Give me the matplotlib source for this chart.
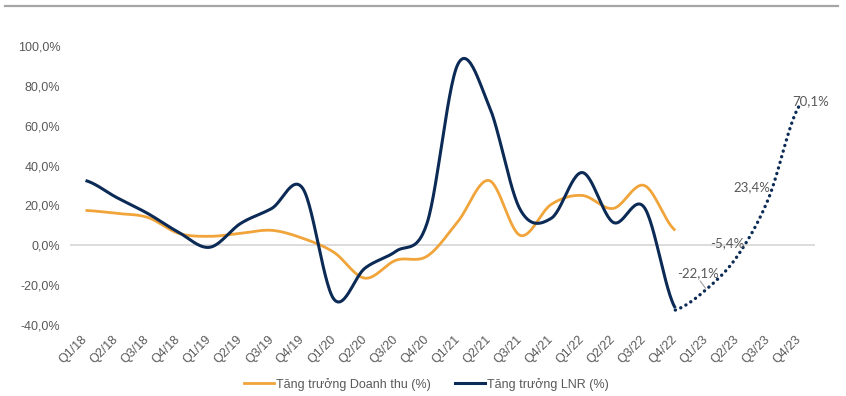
import numpy as np
import matplotlib
matplotlib.use("Agg")
import matplotlib.pyplot as plt
from matplotlib.lines import Line2D
from matplotlib.transforms import ScaledTranslation

quarters = ["Q1/18", "Q2/18", "Q3/18", "Q4/18", "Q1/19", "Q2/19", "Q3/19", "Q4/19",
            "Q1/20", "Q2/20", "Q3/20", "Q4/20", "Q1/21", "Q2/21", "Q3/21", "Q4/21",
            "Q1/22", "Q2/22", "Q3/22", "Q4/22", "Q1/23", "Q2/23", "Q3/23", "Q4/23"]

# actual values, Q1/18 .. Q4/22
rev_growth = [17.5, 16, 14, 6, 4.5, 6, 7.5, 3.5, -3.5, -16.5, -7.5, -5.5,
              12, 32.5, 5, 20.5, 25, 18.5, 30, 7.5]
lnr_growth = [32.5, 24, 16, 6.5, -1, 11, 18.5, 28.5, -27, -11.5, -3, 11,
              91, 70, 18, 13.5, 36.5, 11.5, 19, -31.5]
# forecast, Q4/22 .. Q4/23
lnr_forecast = [-32.5, -22.1, -5.4, 23.4, 70.1]
forecast_labels = ["", "-22,1%", "-5,4%", "23,4%", "70,1%"]

ORANGE = "#F0A43A"
NAVY = "#0B2A55"
GREY = "#595959"


def smooth(xs, ys, n=30):
    # catmull-rom style smoothing, similar to excel "smoothed line"
    xs = np.asarray(xs, float)
    ys = np.asarray(ys, float)
    px = np.concatenate([[2 * xs[0] - xs[1]], xs, [2 * xs[-1] - xs[-2]]])
    py = np.concatenate([[ys[0]], ys, [ys[-1]]])
    out_x, out_y = [], []
    t = np.linspace(0, 1, n)
    for i in range(1, len(px) - 2):
        p0, p1, p2, p3 = py[i - 1], py[i], py[i + 1], py[i + 2]
        m1 = (p2 - p0) / 2
        m2 = (p3 - p1) / 2
        h00 = 2 * t**3 - 3 * t**2 + 1
        h10 = t**3 - 2 * t**2 + t
        h01 = -2 * t**3 + 3 * t**2
        h11 = t**3 - t**2
        out_y.extend(h00 * p1 + h10 * m1 + h01 * p2 + h11 * m2)
        out_x.extend(px[i] + t * (px[i + 1] - px[i]))
    return np.array(out_x), np.array(out_y)


plt.rcParams["font.family"] = ["Liberation Sans", "DejaVu Sans"]

fig = plt.figure(figsize=(8.46, 3.96), dpi=100)
ax = fig.add_axes([70 / 846, 1 - 325 / 396, 745 / 846, 279 / 396])

# top rule
fig.add_artist(Line2D([5 / 846, 838 / 846], [1 - 5.5 / 396] * 2,
                      color="#A6A6A6", lw=1.6, transform=fig.transFigure))

ax.axhline(0, color="#D9D9D9", lw=1.3, zorder=1)

x_act = np.arange(len(rev_growth))
sx, sy = smooth(x_act, rev_growth)
ax.plot(sx, sy, color=ORANGE, lw=2.0, solid_capstyle="butt", zorder=3)
sx, sy = smooth(x_act, lnr_growth)
ax.plot(sx, sy, color=NAVY, lw=2.2, solid_capstyle="butt", zorder=4)

x_fc = np.arange(len(rev_growth) - 1, len(quarters))
sx, sy = smooth(x_fc, lnr_forecast)
ax.plot(sx, sy, color=NAVY, lw=2.4, linestyle=(0, (0.05, 1.7)),
        dash_capstyle="round", zorder=4)

# data labels on forecast
label_offsets = {1: (-6, 12), 2: (-7, 9), 3: (-12, 8), 4: (8, 3)}
for i, lab in enumerate(forecast_labels):
    if not lab:
        continue
    dx, dy = label_offsets[i]
    ax.annotate(lab, (x_fc[i], lnr_forecast[i]), xytext=(dx, dy),
                textcoords="offset points", ha="center", va="center",
                fontsize=9.5, color=GREY, family=["Lato", "DejaVu Sans"], zorder=5)
# small leader line for the -22,1% label
ax.annotate("", (x_fc[1], lnr_forecast[1]), xytext=(-4.5, 6),
            textcoords="offset points",
            arrowprops=dict(arrowstyle="-", color="#A6A6A6", lw=0.9,
                            shrinkA=0, shrinkB=1))

ax.set_xlim(-0.5, len(quarters) - 0.5)
ax.set_ylim(-40, 100)
ax.set_yticks(np.arange(-40, 101, 20))
ax.set_yticklabels([f"{v:.1f}%".replace(".", ",") for v in np.arange(-40, 101, 20)])
ax.set_xticks(np.arange(len(quarters)))
ax.set_xticklabels(quarters, rotation=45, ha="right", va="center",
                   rotation_mode="anchor")
shift = ScaledTranslation(4 / 100, 0, fig.dpi_scale_trans)
for lbl in ax.get_xticklabels():
    lbl.set_transform(lbl.get_transform() + shift)

ax.tick_params(axis="both", length=0, labelsize=9, colors=GREY)
ax.tick_params(axis="y", pad=7)
ax.tick_params(axis="x", pad=9)
for s in ax.spines.values():
    s.set_visible(False)

handles = [Line2D([], [], color=ORANGE, lw=2.0),
           Line2D([], [], color=NAVY, lw=2.2)]
fig.legend(handles, ["Tăng trưởng Doanh thu (%)", "Tăng trưởng LNR (%)"],
           loc="center", bbox_to_anchor=(0.504, 0.03), ncol=2, frameon=False,
           fontsize=9, labelcolor=GREY, handlelength=2.4, handletextpad=0.2,
           columnspacing=1.9)

fig.savefig("out.png", dpi=100, facecolor="white")
